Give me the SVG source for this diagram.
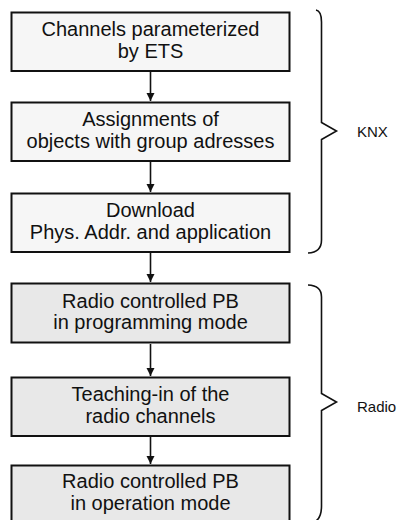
<svg xmlns="http://www.w3.org/2000/svg" width="414" height="520" viewBox="0 0 414 520">
<defs>
<style>
.box{stroke:#111;stroke-width:2}
.knx{fill:#f6f6f6}
.radio{fill:#e8e8e8}
.t{font-family:"Liberation Sans",Arial,Helvetica,sans-serif;font-size:20px;fill:#111;text-anchor:middle}
.lbl{font-family:"Liberation Sans",Arial,Helvetica,sans-serif;font-size:15px;fill:#111}
.edge{stroke:#111;stroke-width:1.6;fill:none}
.brace{stroke:#111;stroke-width:1.6;fill:none;stroke-linejoin:miter}
</style>
<marker id="ah" viewBox="0 0 10 10" refX="10" refY="5" markerWidth="8" markerHeight="10" markerUnits="userSpaceOnUse" orient="auto">
<path d="M0,0 L10,5 L0,10 Z" fill="#111"/>
</marker>
</defs>
<rect width="414" height="520" fill="#fff"/>
<g id="connectors">
<line class="edge" x1="150.5" y1="72" x2="150.5" y2="101" marker-end="url(#ah)"/>
<line class="edge" x1="150.5" y1="162" x2="150.5" y2="192" marker-end="url(#ah)"/>
<line class="edge" x1="150.5" y1="253" x2="150.5" y2="282" marker-end="url(#ah)"/>
<line class="edge" x1="150.5" y1="344" x2="150.5" y2="376" marker-end="url(#ah)"/>
<line class="edge" x1="150.5" y1="437" x2="150.5" y2="464" marker-end="url(#ah)"/>
</g>
<g id="n1">
<rect class="box knx" x="11.5" y="12.5" width="278" height="58.5"/>
<text class="t" x="150.5" y="36">Channels parameterized</text>
<text class="t" x="150.5" y="57.5">by ETS</text>
</g>
<g id="n2">
<rect class="box knx" x="11.5" y="102.5" width="278" height="58.5"/>
<text class="t" x="150.5" y="126">Assignments of</text>
<text class="t" x="150.5" y="147.5">objects with group adresses</text>
</g>
<g id="n3">
<rect class="box knx" x="11.5" y="193.5" width="278" height="58.5"/>
<text class="t" x="150.5" y="217">Download</text>
<text class="t" x="150.5" y="238.5">Phys. Addr. and application</text>
</g>
<g id="n4">
<rect class="box radio" x="11.5" y="283.5" width="278" height="59"/>
<text class="t" x="150.5" y="307.5">Radio controlled PB</text>
<text class="t" x="150.5" y="329">in programming mode</text>
</g>
<g id="n5">
<rect class="box radio" x="11.5" y="377.5" width="278" height="58.5"/>
<text class="t" x="150.5" y="401">Teaching-in of the</text>
<text class="t" x="150.5" y="422.5">radio channels</text>
</g>
<g id="n6">
<rect class="box radio" x="11.5" y="465.5" width="278" height="60"/>
<text class="t" x="150.5" y="488">Radio controlled PB</text>
<text class="t" x="150.5" y="509.5">in operation mode</text>
</g>
<g id="brace-knx">
<path class="brace" d="M316,10 Q321.5,11 321.5,22 L321.5,122.5 L336.5,131 L321.5,139.5 L321.5,240 Q321.5,252.5 308,253"/>
<text class="lbl" x="357" y="137">KNX</text>
</g>
<g id="brace-radio">
<path class="brace" d="M308,285 Q321.5,285.5 321.5,297 L321.5,393.5 L336.5,402 L321.5,410.5 L321.5,506 Q321.5,517 316,521"/>
<text class="lbl" x="357" y="411.5">Radio</text>
</g>
</svg>
